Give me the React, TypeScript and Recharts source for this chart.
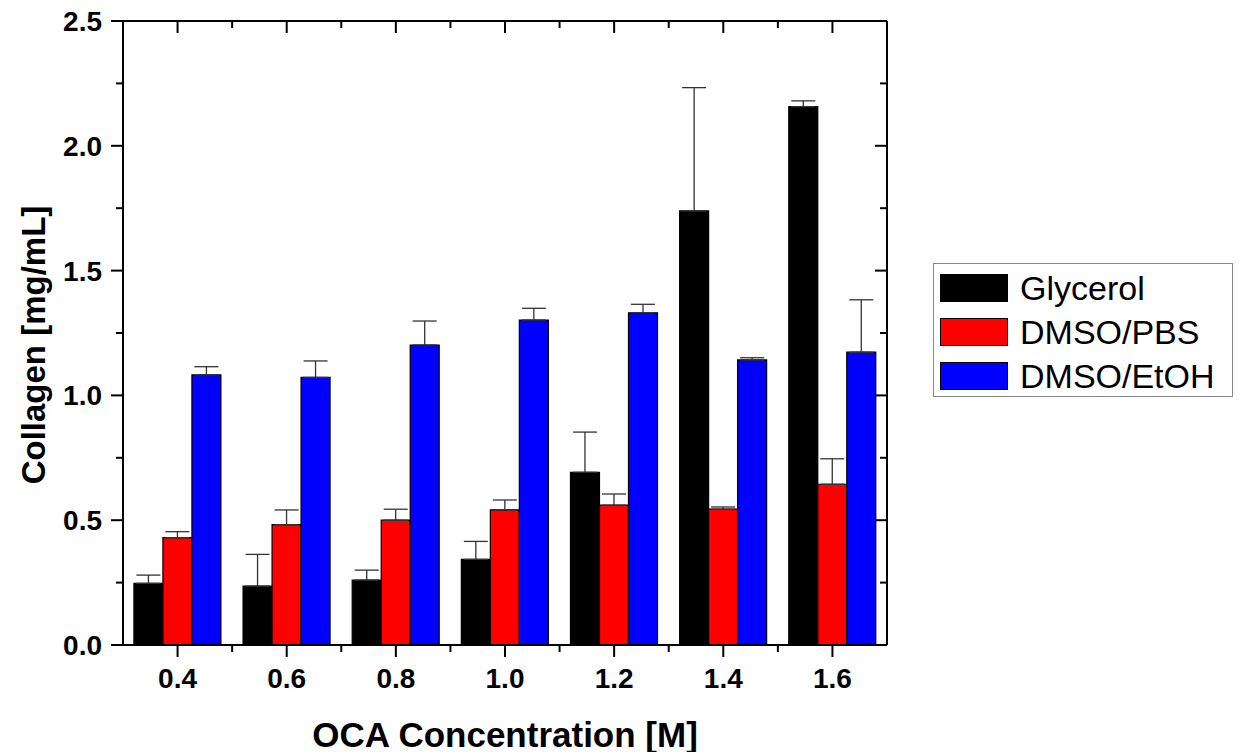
import React from "react";
import {
  ComposedChart,
  Bar,
  Line,
  XAxis,
  YAxis,
  ErrorBar,
} from "recharts";

const categories = ["0.4", "0.6", "0.8", "1.0", "1.2", "1.4", "1.6"];
const glycerol = [0.247, 0.236, 0.26, 0.343, 0.692, 1.739, 2.157];
const glycerolErr = [0.033, 0.127, 0.04, 0.072, 0.161, 0.494, 0.023];
const dmsoPbs = [0.43, 0.482, 0.5, 0.541, 0.56, 0.544, 0.644];
const dmsoPbsErr = [0.024, 0.059, 0.044, 0.04, 0.045, 0.009, 0.102];
const dmsoEtoh = [1.082, 1.072, 1.202, 1.302, 1.331, 1.142, 1.173];
const dmsoEtohErr = [0.033, 0.066, 0.096, 0.047, 0.034, 0.009, 0.21];
const yTicks = [0, 0.25, 0.5, 0.75, 1.0, 1.25, 1.5, 1.75, 2.0, 2.25, 2.5];

const series = [
  { key: "glycerol", name: "Glycerol", color: "#000000" },
  { key: "dmsoPbs", name: "DMSO/PBS", color: "#ff0000" },
  { key: "dmsoEtoh", name: "DMSO/EtOH", color: "#0000ff" },
];

const data = categories.map((c, i) => ({
  x: c,
  glycerol: glycerol[i],
  glycerolErr: [0, glycerolErr[i]],
  dmsoPbs: dmsoPbs[i],
  dmsoPbsErr: [0, dmsoPbsErr[i]],
  dmsoEtoh: dmsoEtoh[i],
  dmsoEtohErr: [0, dmsoEtohErr[i]],
}));

const W = 1239;
const H = 752;
const LEFT = 123;
const RIGHT = 352;
const TOP = 21;
const BOTTOM = 107;
const BAND = (W - LEFT - RIGHT) / categories.length;
const FONT = "'Liberation Sans', Arial, sans-serif";

const isMajor = (v: number) => Math.abs(v * 2 - Math.round(v * 2)) < 1e-6;

function LeftTick(props: any) {
  const { x, y, payload } = props;
  const major = isMajor(payload.value);
  return (
    <g>
      <line x1={x} x2={x - (major ? 12 : 7)} y1={y} y2={y} stroke="#000" strokeWidth={2} />
      {major && (
        <text x={x - 21} y={y} dy={10} textAnchor="end" fontSize={28} fontWeight="bold" fontFamily={FONT} fill="#000">
          {payload.value.toFixed(1)}
        </text>
      )}
    </g>
  );
}

// right frame: ticks point inward
function RightTick(props: any) {
  const { payload, y } = props;
  const major = isMajor(payload.value);
  const x = W - RIGHT;
  return <line x1={x} x2={x - (major ? 12 : 7)} y1={y} y2={y} stroke="#000" strokeWidth={2} />;
}

function BottomTick(props: any) {
  const { x, y, payload, index } = props;
  const mx = x + BAND / 2;
  return (
    <g>
      <line x1={x} x2={x} y1={y} y2={y + 12} stroke="#000" strokeWidth={2} />
      {index < categories.length - 1 && (
        <line x1={mx} x2={mx} y1={y} y2={y + 7} stroke="#000" strokeWidth={2} />
      )}
      <text x={x} y={y + 43} textAnchor="middle" fontSize={28} fontWeight="bold" fontFamily={FONT} fill="#000">
        {payload.value}
      </text>
    </g>
  );
}

// top frame ticks, inward (drawn as an overlay)
function TopFrameTicks() {
  return (
    <svg
      width={W}
      height={40}
      style={{ position: "absolute", left: 0, top: 0, pointerEvents: "none" }}
    >
      {categories.map((c, i) => {
        const x = LEFT + BAND * (i + 0.5);
        return (
          <g key={c}>
            <line x1={x} x2={x} y1={TOP} y2={TOP + 12} stroke="#000" strokeWidth={2} />
            {i < categories.length - 1 && (
              <line x1={x + BAND / 2} x2={x + BAND / 2} y1={TOP} y2={TOP + 7} stroke="#000" strokeWidth={2} />
            )}
          </g>
        );
      })}
    </svg>
  );
}

export default function App() {
  return (
    <div style={{ position: "absolute", left: 0, top: 0, width: W, height: H, background: "#fff", fontFamily: FONT }}>
      <ComposedChart
        width={W}
        height={H}
        data={data}
        margin={{ top: TOP - 1, right: RIGHT - 1, bottom: 0, left: 0 }}
        barCategoryGap="10%"
        barGap={0}
      >
        <XAxis
          dataKey="x"
          height={BOTTOM}
          tickLine={false}
          tickSize={0}
          tickMargin={0}
          interval={0}
          axisLine={{ stroke: "#000", strokeWidth: 2 }}
          tick={<BottomTick />}
        />
        <XAxis
          xAxisId="top"
          dataKey="x"
          orientation="top"
          height={1}
          tickLine={false}
          tick={false}
          axisLine={{ stroke: "#000", strokeWidth: 2 }}
        />
        <YAxis
          width={LEFT}
          domain={[0, 2.5]}
          ticks={yTicks}
          interval={0}
          tickLine={false}
          tickSize={0}
          tickMargin={0}
          axisLine={{ stroke: "#000", strokeWidth: 2 }}
          tick={<LeftTick />}
        />
        <YAxis
          yAxisId="right"
          orientation="right"
          width={1}
          domain={[0, 2.5]}
          ticks={yTicks}
          interval={0}
          tickLine={false}
          tickSize={0}
          tickMargin={0}
          axisLine={{ stroke: "#000", strokeWidth: 2 }}
          tick={<RightTick />}
        />
        {series.map((s) => (
          <Bar
            key={s.key}
            dataKey={s.key}
            name={s.name}
            fill={s.color}
            stroke="#000"
            strokeWidth={1.2}
            isAnimationActive={false}
          >
            <ErrorBar dataKey={s.key + "Err"} width={12} stroke="#333" strokeWidth={1.3} direction="y" />
          </Bar>
        ))}
        {/* invisible series so the top / right frame axes get a scale */}
        <Line
          xAxisId="top"
          yAxisId="right"
          dataKey="glycerol"
          stroke="transparent"
          dot={false}
          activeDot={false}
          legendType="none"
          isAnimationActive={false}
        />
      </ComposedChart>

      <TopFrameTicks />

      <div
        style={{
          position: "absolute",
          left: 33,
          top: 345,
          transform: "translate(-50%, -50%) rotate(-90deg)",
          whiteSpace: "nowrap",
          fontSize: 33,
          fontWeight: "bold",
          lineHeight: 1,
        }}
      >
        Collagen [mg/mL]
      </div>
      <div
        style={{
          position: "absolute",
          left: 505,
          top: 734,
          transform: "translate(-50%, -50%)",
          whiteSpace: "nowrap",
          fontSize: 35,
          fontWeight: "bold",
          lineHeight: 1,
        }}
      >
        OCA Concentration [M]
      </div>

      <div
        style={{
          position: "absolute",
          left: 933,
          top: 263,
          width: 298,
          height: 132,
          border: "1px solid #888",
          background: "#fff",
        }}
      >
        {series.map((s, i) => (
          <div
            key={s.key}
            style={{ position: "absolute", left: 6, top: 10 + i * 44, height: 28, display: "flex", alignItems: "center" }}
          >
            <div style={{ width: 66, height: 26, background: s.color, border: "1px solid #000" }} />
            <span style={{ marginLeft: 12, fontSize: 34, lineHeight: 1, whiteSpace: "nowrap" }}>{s.name}</span>
          </div>
        ))}
      </div>
    </div>
  );
}
